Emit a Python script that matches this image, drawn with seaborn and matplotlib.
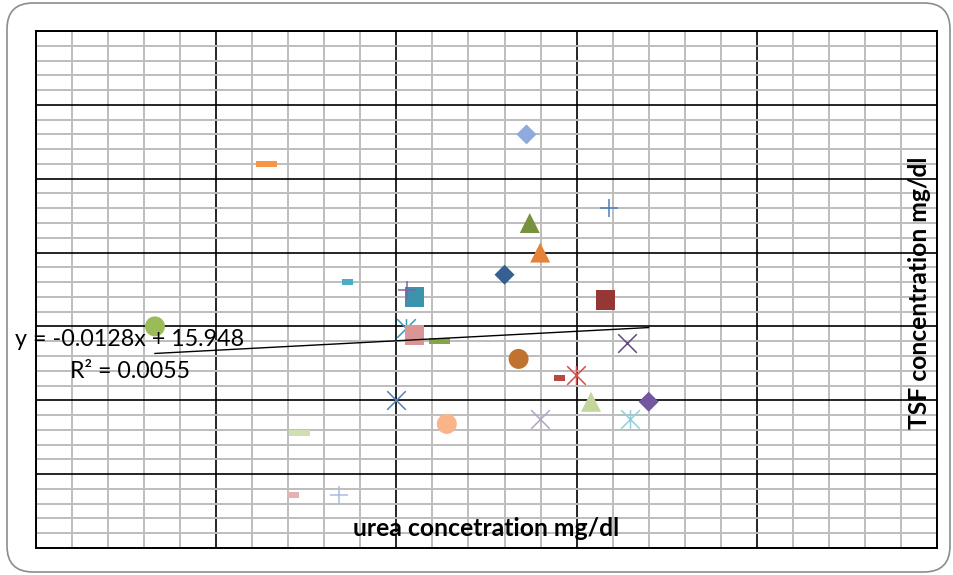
import matplotlib
matplotlib.use("Agg")
import matplotlib.pyplot as plt
import seaborn as sns
import pandas as pd
from matplotlib.path import Path
from matplotlib.patches import FancyBboxPatch
from matplotlib.ticker import MultipleLocator
from matplotlib.transforms import IdentityTransform

# ---- data -------------------------------------------------------------
urea = [113.9, 186.0, 90.9, 113.0, 110.1, 120.0, 163.6, 145.0, 147.1, 92.0,
        217.0, 147.3, 145.0, 138.1, 86.0, 116.1, 100.1, 104.7, 150.0, 96.0,
        80.0, 136.0, 110.1, 85.1, 176.9, 178.7, 165.9]
tsf = [28.0, 26.0, 23.0, 22.0, 20.0, 18.5, 18.0, 17.0, 17.5, 16.8,
       15.0, 14.9, 14.4, 14.0, 13.9, 12.8, 11.7, 11.5, 10.0, 9.9,
       9.9, 8.4, 8.7, 8.7, 7.8, 3.6, 3.6]

# linear trend fitted in the workbook
slope = -0.0128
intercept = 15.948
r_squared = 0.0055

x_title = "urea concetration mg/dl"
y_title = "TSF concentration mg/dl"

# ---- per-point appearance --------------------------------------------
kinds = ["D", "dashL", "+", "^", "^", "D", "dashS", "s", "+", "s",
         "o", "*", "s", "dashL", "x", "o", "*", "dashS", "x", "^",
         "D", "o", "x", "*", "dashL", "dashS", "+"]
colors = ["#8FAADC", "#F79646", "#4A7EBB", "#76923C", "#E6823A", "#376092",
          "#4BACC6", "#3C93AC", "#8064A2", "#953735", "#9BBB59", "#3E97B4",
          "#D99694", "#84A646", "#604A7B", "#C0732F", "#D0504D", "#B84845",
          "#4F81BD", "#C3D69B", "#71589F", "#F9B48A", "#B3A2C7", "#93CDDD",
          "#CFDEB3", "#E4B2B2", "#A8BCE0"]


def bar_path(aspect):
    h = aspect / 2
    return Path([(-0.5, -h), (0.5, -h), (0.5, h), (-0.5, h), (-0.5, -h)],
                [Path.MOVETO, Path.LINETO, Path.LINETO, Path.LINETO,
                 Path.CLOSEPOLY])


def strokes(segs):
    verts, codes = [], []
    for a, b in segs:
        verts += [a, b]
        codes += [Path.MOVETO, Path.LINETO]
    return Path(verts, codes)


PLUS = strokes([((-0.5, 0), (0.5, 0)), ((0, -0.5), (0, 0.5))])
CROSS = strokes([((-0.5, -0.5), (0.5, 0.5)), ((-0.5, 0.5), (0.5, -0.5))])
STAR = strokes([((-0.5, -0.5), (0.5, 0.5)), ((-0.5, 0.5), (0.5, -0.5)),
                ((0, -0.5), (0, 0.5))])

# marker, area (pt^2), outline only?
styles = {
    "D": ("D", 104, False),
    "s": ("s", 200, False),
    "^": ("^", 207, False),
    "o": ("o", 207, False),
    "dashL": (bar_path(0.27), 218, False),
    "dashS": (bar_path(0.5), 64, False),
    "+": (PLUS, 168, True),
    "x": (CROSS, 180, True),
    "*": (STAR, 180, True),
}

# ---- figure -----------------------------------------------------------
W, H = 954, 575
fig = plt.figure(figsize=(W / 100, H / 100), dpi=100)
fig.patch.set_facecolor("white")

frame = FancyBboxPatch((7, 3), 943, 569,
                       boxstyle="round,pad=0,rounding_size=26",
                       transform=IdentityTransform(), facecolor="none",
                       edgecolor="#8C8C8C", linewidth=1.2, zorder=-1)
fig.patches.append(frame)

ax = fig.add_axes([36 / W, 27 / H, 901 / W, 517 / H])
ax.set_facecolor("white")

df = pd.DataFrame({"urea": urea, "tsf": tsf})

for i, row in df.iterrows():
    marker, size, outline = styles[kinds[i]]
    if outline:
        sns.scatterplot(x=[row.urea], y=[row.tsf], ax=ax, marker=marker,
                        s=size, color=colors[i], edgecolor=colors[i],
                        linewidth=1.1, zorder=3, legend=False)
    else:
        sns.scatterplot(x=[row.urea], y=[row.tsf], ax=ax, marker=marker,
                        s=size, color=colors[i], edgecolor="none",
                        linewidth=0, zorder=3, legend=False)

# trend line over the range of the data
trend_x = [min(urea), max(urea)]
trend = pd.DataFrame({"x": trend_x,
                      "y": [intercept + slope * v for v in trend_x]})
sns.lineplot(data=trend, x="x", y="y", ax=ax, color="black",
             linewidth=1.0, zorder=4)

ax.set_xlim(250, 0)
ax.set_ylim(0, 35)
ax.xaxis.set_major_locator(MultipleLocator(50))
ax.xaxis.set_minor_locator(MultipleLocator(10))
ax.yaxis.set_major_locator(MultipleLocator(5))
ax.yaxis.set_minor_locator(MultipleLocator(1))
ax.grid(which="minor", color="#BDBDBD", linewidth=1.4, zorder=0)
ax.grid(which="major", color="black", linewidth=1.2, zorder=1)
ax.set_axisbelow(True)
ax.tick_params(which="both", length=0, labelbottom=False, labelleft=False)
ax.set_xlabel("")
ax.set_ylabel("")
for sp in ax.spines.values():
    sp.set_color("black")
    sp.set_linewidth(1.4)


def fx(px):
    return px / W


def fy(py):
    return 1 - py / H


renderer = fig.canvas.get_renderer()


def fit(t, length, vertical=False):
    bb = t.get_window_extent(renderer)
    cur = bb.height if vertical else bb.width
    t.set_fontsize(t.get_fontsize() * length / cur)


eq = fig.text(fx(130), fy(346), f"y = {slope}x + {intercept}",
              ha="center", va="baseline", fontsize=16, family="Lato",
              color="black", zorder=5)
fit(eq, 230)
r2 = fig.text(fx(130), fy(378), f"R\u00b2 = {r_squared}",
              ha="center", va="baseline", fontsize=16, family="Lato",
              color="black", zorder=5)
fit(r2, 120)

xt = fig.text(fx(486), fy(535.5), x_title, ha="center", va="baseline",
              fontsize=14, family="Lato", fontweight="bold", zorder=5)
fit(xt, 268)
yt = fig.text(fx(920), fy(292.5), y_title, ha="center", va="center",
              rotation=90, fontsize=14, family="Lato", fontweight="bold",
              zorder=5)
fit(yt, 275, vertical=True)

fig.savefig("out.png", dpi=100, facecolor="white")
